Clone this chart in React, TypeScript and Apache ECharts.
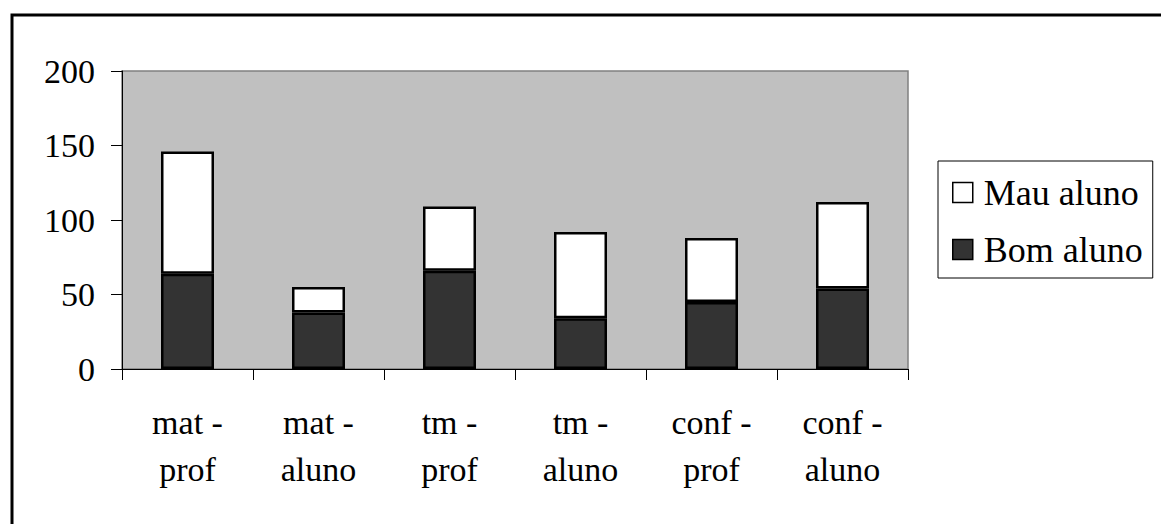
import React, { useEffect, useRef } from "react";
import * as echarts from "echarts";

// Categories (group - respondent) and stacked counts
const categories = ["mat-prof", "mat-aluno", "tm-prof", "tm-aluno", "conf-prof", "conf-aluno"];
const bomAluno = [64, 38, 66, 34, 45, 54];
const mauAluno = [82, 17, 43, 58, 43, 58];
const yTicks = { min: 0, max: 200, interval: 50 };

const FONT = "Liberation Serif";

export default function App() {
  const ref = useRef<HTMLDivElement>(null);

  useEffect(() => {
    if (!ref.current) return;
    const chart = echarts.init(ref.current, undefined, { renderer: "svg" });
    chart.setOption({
      animation: false,
      backgroundColor: "#ffffff",
      graphic: [
        {
          type: "rect",
          left: 9.5,
          top: 12.5,
          shape: { x: 0, y: 0, width: 1300, height: 700 },
          style: { fill: "none", stroke: "#000", lineWidth: 3 },
          z: 0,
        },
      ],
      grid: {
        left: 122,
        top: 71,
        right: 253,
        bottom: 155,
        show: true,
        backgroundColor: "#c0c0c0",
        borderColor: "#808080",
        borderWidth: 1.5,
      },
      legend: {
        orient: "vertical",
        left: 938,
        top: 161,
        data: ["Mau aluno", "Bom aluno"],
        itemWidth: 20,
        itemHeight: 20,
        itemGap: 18,
        padding: [12, 10, 9, 14],
        borderColor: "#000",
        borderWidth: 1,
        backgroundColor: "#fff",
        icon: "rect",
        itemStyle: { borderColor: "#000", borderWidth: 1.5 },
        textStyle: { fontFamily: FONT, fontSize: 36, color: "#000", lineHeight: 39, padding: [0, 0, 0, 6] },
      },
      xAxis: {
        type: "category",
        data: categories,
        axisLine: { lineStyle: { color: "#000", width: 1 } },
        axisTick: { show: true, length: 11, alignWithLabel: false, lineStyle: { color: "#000" } },
        axisLabel: {
          interval: 0,
          margin: 30,
          fontFamily: FONT,
          fontSize: 34,
          lineHeight: 47,
          color: "#000",
          formatter: (v: string) => v.replace("-", " -\n"),
        },
      },
      yAxis: {
        type: "value",
        min: yTicks.min,
        max: yTicks.max,
        interval: yTicks.interval,
        splitLine: { show: false },
        axisLine: { show: true, lineStyle: { color: "#000", width: 1 } },
        axisTick: { show: true, length: 11, lineStyle: { color: "#000" } },
        axisLabel: { margin: 27, fontFamily: FONT, fontSize: 34, color: "#000" },
      },
      series: [
        {
          name: "Bom aluno",
          type: "bar",
          stack: "total",
          data: bomAluno,
          barWidth: 53,
          itemStyle: { color: "#333333", borderColor: "#000", borderWidth: 2.5 },
        },
        {
          name: "Mau aluno",
          type: "bar",
          stack: "total",
          data: mauAluno,
          barWidth: 53,
          itemStyle: { color: "#ffffff", borderColor: "#000", borderWidth: 2.5 },
        },
      ],
    });
    return () => chart.dispose();
  }, []);

  return (
    <div
      ref={ref}
      style={{ position: "fixed", left: 0, top: 0, width: 1161, height: 524 }}
    />
  );
}
